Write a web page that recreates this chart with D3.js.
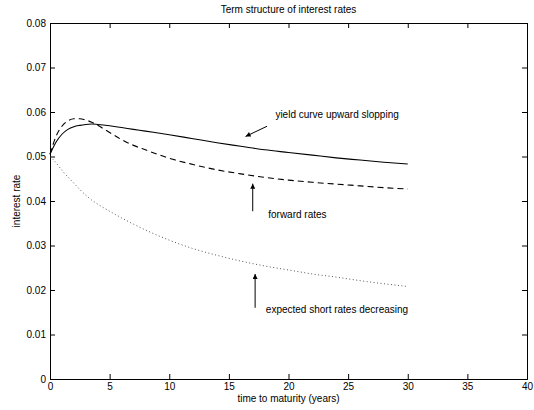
<!DOCTYPE html>
<html>
<head>
<meta charset="utf-8">
<script src="https://cdn.jsdelivr.net/npm/d3@7"></script>
<style>
  body { margin: 0; background: #fff; }
  text { font-family: "Liberation Sans", Arial, Helvetica, sans-serif; font-size: 10px; fill: #000; }
</style>
</head>
<body>
<svg id="chart" width="534" height="410"></svg>
<script>
// datos
var maturity = [0, 0.5, 1, 1.5, 2, 2.5, 3, 3.5, 4, 5, 6, 7, 8, 10, 12, 14, 16, 18, 20, 22, 24, 26, 28, 30];
var yieldCurve = [0.0505, 0.0532, 0.0550, 0.0561, 0.0567, 0.0570, 0.0572, 0.0573, 0.0572, 0.0569, 0.0565, 0.0561, 0.0557,
    0.0549, 0.0540, 0.0531, 0.0523, 0.0515, 0.0509, 0.0503, 0.0497, 0.0492, 0.0487, 0.0483];
var forwardRates = [0.0505, 0.0545, 0.0568, 0.0580, 0.0585, 0.0585, 0.0582, 0.0577, 0.0570, 0.0554, 0.0538, 0.0525, 0.0515,
    0.0496, 0.0482, 0.0470, 0.0461, 0.0453, 0.0447, 0.0442, 0.0438, 0.0434, 0.0430, 0.0427];
var shortRates = [0.0500, 0.0486, 0.0469, 0.0454, 0.0440, 0.0426, 0.0413, 0.0402, 0.0393, 0.0377, 0.0362, 0.0348, 0.0335,
    0.0312, 0.0293, 0.0278, 0.0265, 0.0254, 0.0245, 0.0236, 0.0229, 0.0221, 0.0214, 0.0208];

var xTicks = [0, 5, 10, 15, 20, 25, 30, 35, 40];
var yTicks = [0, 0.01, 0.02, 0.03, 0.04, 0.05, 0.06, 0.07, 0.08];

// anotaciones: texto y flecha (desde -> hasta) en unidades de datos
var labels = ["yield curve upward slopping", "forward rates", "expected short rates decreasing"];
var labelPos = [[18.9, 0.0594], [18.3, 0.0369], [18.1, 0.0156]];
var arrowFrom = [[18.2, 0.0568], [17.0, 0.0377], [17.2, 0.0160]];
var arrowTo = [[16.4, 0.0545], [17.0, 0.0439], [17.2, 0.0236]];

var margin = { top: 23, right: 7, bottom: 31, left: 50 };
var svg = d3.select("#chart");
var width = 534 - margin.left - margin.right;
var height = 410 - margin.top - margin.bottom;

var x = d3.scaleLinear().domain([0, 40]).range([0, width]);
var y = d3.scaleLinear().domain([0, 0.08]).range([height, 0]);

var g = svg.append("g").attr("transform", "translate(" + margin.left + "," + margin.top + ")");

svg.append("defs").append("marker")
    .attr("id", "head")
    .attr("viewBox", "0 0 10 10")
    .attr("refX", 10).attr("refY", 5)
    .attr("markerWidth", 7).attr("markerHeight", 5)
    .attr("markerUnits", "userSpaceOnUse")
    .attr("orient", "auto")
    .append("path")
    .attr("d", "M0,0 L10,5 L0,10 z")
    .attr("fill", "#000");

// ejes con marcas hacia adentro
g.append("g").attr("transform", "translate(0," + height + ")")
    .call(d3.axisBottom(x).tickValues(xTicks).tickSize(-5).tickPadding(4).tickFormat(d3.format("d")));
g.append("g")
    .call(d3.axisLeft(y).tickValues(yTicks).tickSize(-5).tickPadding(4).tickFormat(function (d) { return d === 0 ? "0" : d3.format(".2f")(d); }));
g.append("g")
    .call(d3.axisTop(x).tickValues(xTicks).tickSize(-5).tickFormat(""));
g.append("g").attr("transform", "translate(" + width + ",0)")
    .call(d3.axisRight(y).tickValues(yTicks).tickSize(-5).tickFormat(""));
g.selectAll(".domain").attr("stroke", "#000");
g.selectAll(".tick line").attr("stroke", "#000");
g.selectAll(".tick text").style("font-size", "10px").attr("fill", "#000");

var line = d3.line()
    .x(function (d) { return x(d[0]); })
    .y(function (d) { return y(d[1]); })
    .curve(d3.curveMonotoneX);

function pares(vals) {
    return maturity.map(function (t, i) { return [t, vals[i]]; });
}

g.append("path").datum(pares(yieldCurve))
    .attr("d", line).attr("fill", "none").attr("stroke", "#000").attr("stroke-width", 1.1);
g.append("path").datum(pares(forwardRates))
    .attr("d", line).attr("fill", "none").attr("stroke", "#000").attr("stroke-width", 1.1)
    .attr("stroke-dasharray", "6,4");
g.append("path").datum(pares(shortRates))
    .attr("d", line).attr("fill", "none").attr("stroke", "#555").attr("stroke-width", 1)
    .attr("stroke-dasharray", "1,2.5");

labels.forEach(function (txt, i) {
    g.append("text")
        .attr("x", x(labelPos[i][0]))
        .attr("y", y(labelPos[i][1]))
        .attr("dy", "0.35em")
        .text(txt);
    g.append("line")
        .attr("x1", x(arrowFrom[i][0])).attr("y1", y(arrowFrom[i][1]))
        .attr("x2", x(arrowTo[i][0])).attr("y2", y(arrowTo[i][1]))
        .attr("stroke", "#000").attr("stroke-width", 1)
        .attr("marker-end", "url(#head)");
});

svg.append("text")
    .attr("x", margin.left + width / 2).attr("y", 13)
    .attr("text-anchor", "middle")
    .text("Term structure of interest rates");
svg.append("text")
    .attr("x", margin.left + width / 2).attr("y", 402)
    .attr("text-anchor", "middle")
    .text("time to maturity (years)");
svg.append("text")
    .attr("transform", "translate(20," + (margin.top + height / 2) + ") rotate(-90)")
    .attr("text-anchor", "middle")
    .text("interest rate");
</script>
</body>
</html>
